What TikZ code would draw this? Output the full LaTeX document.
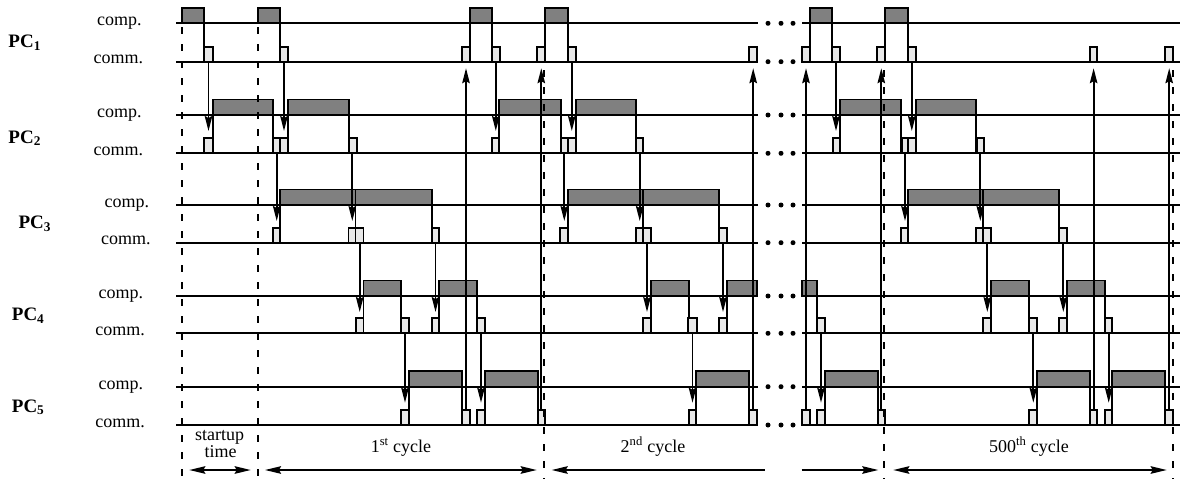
\documentclass[tikz,border=0pt]{standalone}
\usepackage{fontspec}
\setmainfont{Liberation Serif}
\usetikzlibrary{arrows.meta}
\definecolor{compgray}{gray}{0.5}
\definecolor{commgray}{gray}{0.91}
\begin{document}
\begin{tikzpicture}[x=1pt,y=-1pt,
  lane/.style={line width=1.9pt},
  compbox/.style={draw,line width=1.9pt,fill=compgray},
  commbox/.style={draw,line width=1.7pt,fill=commgray},
  boundary/.style={line width=1.9pt,dash pattern=on 7pt off 10pt},
  msg/.style={line width=1.8pt,-{Stealth[length=15pt,width=7.5pt,inset=2pt]}},
  span/.style={line width=1.8pt,{Stealth[length=16pt,width=7.5pt,inset=2pt]}-{Stealth[length=16pt,width=7.5pt,inset=2pt]}},
  spanr/.style={line width=1.8pt,-{Stealth[length=16pt,width=7.5pt,inset=2pt]}},
  spanl/.style={line width=1.8pt,{Stealth[length=16pt,width=7.5pt,inset=2pt]}-},
  lbl/.style={inner sep=0pt,font=\fontsize{18}{20}\selectfont},
  pclbl/.style={inner sep=0pt,font=\fontsize{19}{21}\selectfont\bfseries,anchor=base west},
  dot/.style={fill=black,draw=none}
]
\useasboundingbox (0,0) rectangle (1186,479);

% baselines of the computation (C) and communication (M) lanes
\def\yCa{23.3}  \def\yMa{61.7}
\def\yCb{115}   \def\yMb{153.3}
\def\yCc{205}   \def\yMc{242.7}
\def\yCd{296}   \def\yMd{333.3}
\def\yCe{386.7} \def\yMe{425}

% lanes, broken where cycles are skipped
\foreach \y in {\yCa,\yMa,\yCb,\yMb,\yCc,\yMc,\yCd,\yMd,\yCe,\yMe}{
  \draw[lane] (176,\y) -- (758,\y);
  \draw[lane] (802,\y) -- (1180,\y);
  \foreach \x in {768,781,793} \fill[dot] (\x,\y) circle (2.5pt);
}

% edges joining computation and communication phases
\foreach \x in {204.3,280,470,491.7,545,567.7,810,832.3,885,907.7}
  \draw[lane] (\x,\yCa) -- (\x,\yMa);
\foreach \x in {212.7,273.3,288.3,349,499.3,561,576,636,840,900.7,915.7,975.7}
  \draw[lane] (\x,\yCb) -- (\x,\yMb);
\foreach \x in {280,355.5,431.7,568.3,643.3,719,908.3,983.3,1059}
  \draw[lane] (\x,\yCc) -- (\x,\yMc);
\foreach \x in {363.5,401,439.3,476.7,651,689,726.7,817.3,991.3,1029.3,1066.7,1105}
  \draw[lane] (\x,\yCd) -- (\x,\yMd);
\foreach \x in {409.3,461.7,485,538,696,749.3,825,877.7,1037,1090,1112.3,1165}
  \draw[lane] (\x,\yCe) -- (\x,\yMe);

% computation phases
\foreach \a/\b in {181.7/204.3,258.3/280,470/491.7,545/567.7,810/832.3,885/907.7}
  \draw[compbox] (\a,\yCa-15.5) rectangle (\b,\yCa);
\foreach \a/\b in {212.7/273.3,288.3/349,499.3/561,576/636,840/900.7,915.7/975.7}
  \draw[compbox] (\a,\yCb-15.5) rectangle (\b,\yCb);
\foreach \a/\b in {280/355.5,355.5/431.7,568.3/643.3,643.3/719,908.3/983.3,983.3/1059}
  \draw[compbox] (\a,\yCc-15.5) rectangle (\b,\yCc);
\foreach \a/\b in {363.5/401,439.3/476.7,651/689,726.7/757.3,801.7/817.3,991.3/1029.3,1066.7/1105}
  \draw[compbox] (\a,\yCd-15.5) rectangle (\b,\yCd);
\foreach \a/\b in {409.3/461.7,485/538,696/749.3,825/877.7,1037/1090,1112.3/1165}
  \draw[compbox] (\a,\yCe-15.5) rectangle (\b,\yCe);

% communication phases
\foreach \a/\b in {204.3/212.7,280/288.3,461.7/470,491.7/500,537.3/545,567.7/576,749/757.3,801.7/810,832.3/840,877.3/885,907.7/916,1090/1097.3,1165/1173.3}
  \draw[commbox] (\a,\yMa-15) rectangle (\b,\yMa);
\foreach \a/\b in {204.3/212.7,273.3/280,280/288.3,349/356.7,491.7/499.3,561/567.7,567.7/576,636/643.3,832.7/840,901.7/908.3,908.3/915.7,976.7/984}
  \draw[commbox] (\a,\yMb-15) rectangle (\b,\yMb);
\foreach \a/\b in {272.7/280,348.5/355.5,355.5/363.5,431.7/439.3,560/568.3,636/643.3,643.3/651,719/727,900.7/908.3,976/983.3,983.3/991,1059/1067}
  \draw[commbox] (\a,\yMc-15) rectangle (\b,\yMc);
\foreach \a/\b in {356/363.5,400.7/409.3,431.7/439.3,476.7/485,643/651,688.3/696.7,719/727,817.3/825,983.3/991.3,1029.3/1037.3,1059/1066.7,1105/1112.3}
  \draw[commbox] (\a,\yMd-15) rectangle (\b,\yMd);
\foreach \a/\b in {400.7/409.3,461.7/470,476.7/485,538/545,689/696,749.3/757.3,801.7/810,817.3/825,877.7/885.3,1029.3/1037,1090/1097.3,1105/1112.3,1165/1173.3}
  \draw[commbox] (\a,\yMe-15) rectangle (\b,\yMe);

% cycle boundaries
\foreach \x in {182,257.7} \draw[boundary] (\x,27) -- (\x,479);
\foreach \x in {544.3,884.3,1172.7} \draw[boundary] (\x,70) -- (\x,479);

% messages passed down the pipeline
\foreach \x in {208.5,284,495.8,571.8,836,911.8}
  \draw[msg] (\x,\yMa) -- (\x,\yCb+16);
\foreach \x in {276.7,352.3,564.3,639.7,905,980.3}
  \draw[msg] (\x,\yMb) -- (\x,\yCc+16);
\foreach \x in {359.7,435.5,647,723,987.3,1063.3}
  \draw[msg] (\x,\yMc) -- (\x,\yCd+16);
\foreach \x in {405,481,692.5,821,1033.3,1108.7}
  \draw[msg] (\x,\yMd) -- (\x,\yCe+16);
% results returned to PC1
\foreach \x in {466,541.3,753.2,806,881.3,1093.6,1169.2}
  \draw[msg] (\x,\yMe-15) -- (\x,\yMa+6.5);

% time spans
\coordinate (s0) at (189.3,470); \coordinate (s1) at (250.7,470);
\coordinate (c0) at (265,470);   \coordinate (c1) at (536.7,470);
\coordinate (d0) at (551.7,470); \coordinate (d1) at (765,470);
\coordinate (d2) at (801.7,470); \coordinate (d3) at (878.3,470);
\coordinate (e0) at (893.3,470); \coordinate (e1) at (1166.7,470);
\draw[span] (s0) -- (s1);
\draw[span] (c0) -- (c1);
\draw[spanl] (d0) -- (d1);
\draw[spanr] (d2) -- (d3);
\draw[span] (e0) -- (e1);

\node[lbl,anchor=base] (st) at (219.7,440.5) {startup};
\node[lbl,anchor=base] (tm) at (220.5,457.5) {time};
\node[lbl,anchor=base] (k1) at (401,452) {1\textsuperscript{st} cycle};
\node[lbl,anchor=base] (k2) at (653,452) {2\textsuperscript{nd} cycle};
\node[lbl,anchor=base] (k500) at (1029,452) {500\textsuperscript{th} cycle};

% processor and lane labels
\node[pclbl] (p1) at (8.3,47.5) {PC\textsubscript{1}};
\node[pclbl] (p2) at (8.3,143) {PC\textsubscript{2}};
\node[pclbl] (p3) at (18.3,228.5) {PC\textsubscript{3}};
\node[pclbl] (p4) at (11.7,320.5) {PC\textsubscript{4}};
\node[pclbl] (p5) at (11.7,412) {PC\textsubscript{5}};

\foreach \y/\xc/\xm [count=\i] in {\yCa/\yMa/0,\yCb/\yMb/0,\yCc/\yMc/7.5,\yCd/\yMd/1.7,\yCe/\yMe/1.7}{
  \node[lbl,anchor=mid east] (cp\i) at (141.7+\xm,\y) {comp.};
  \node[lbl,anchor=mid east] (cm\i) at (143.3+\xm,\xc) {comm.};
}
\end{tikzpicture}
\end{document}
